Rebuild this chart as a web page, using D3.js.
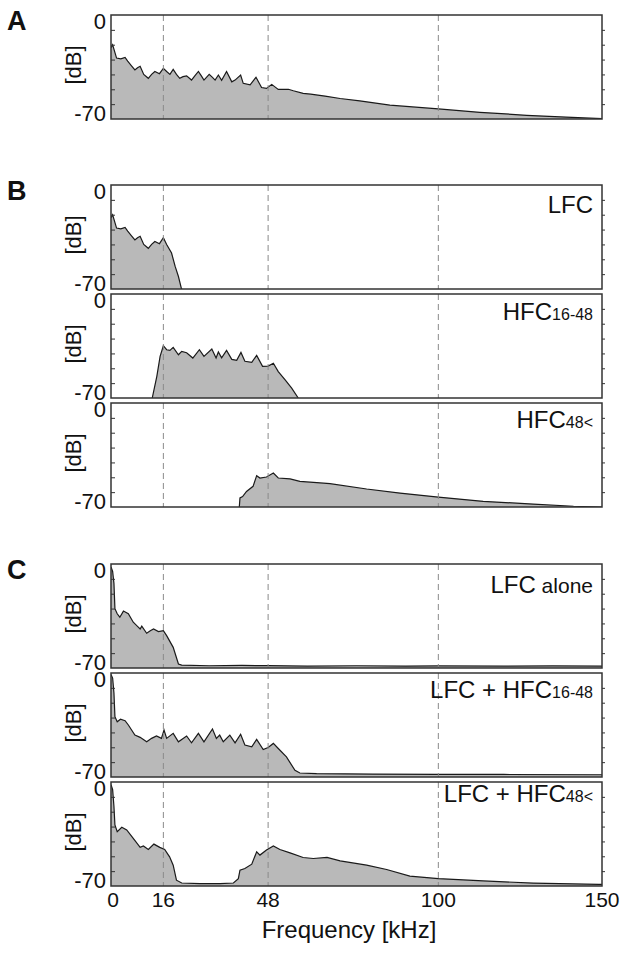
<!DOCTYPE html>
<html>
<head>
<meta charset="utf-8">
<script src="https://cdnjs.cloudflare.com/ajax/libs/d3/7.8.5/d3.min.js"></script>
<style>
	body { margin: 0; background: #fff; }
	text { font-family: "Liberation Sans", Arial, sans-serif; fill: #111; }
</style>
</head>
<body>
<div id="chart"></div>
<script>
// spectra: [frequency kHz, level dB]
const spectrumA = [[0,-22],[0.5,-20],[1.7,-29],[3,-29.5],[4.3,-28.5],[5.1,-31],[6.2,-34],[7.3,-37],[8.1,-35.5],[8.9,-34.5],[10,-40],[11.4,-42.6],[12.4,-40],[13.4,-38],[14.8,-39.5],[16,-35.9],[17,-38],[18,-40],[19,-36.6],[20,-40],[21,-42.6],[22,-41.5],[23.1,-41],[24.6,-43.8],[25.6,-41],[26.7,-38],[27.6,-41],[28.4,-43.8],[30,-40],[31,-42],[31.8,-43.8],[32.8,-40.4],[33.8,-44],[35.3,-38],[36.9,-45],[37.9,-43.8],[39.6,-40.4],[40.4,-46],[42.5,-47],[44.3,-41.9],[46,-48.8],[47.5,-49.4],[49.1,-46.7],[51.1,-50.1],[54.2,-50],[55.7,-51],[58.7,-52.8],[61,-53.3],[65.4,-54.6],[70,-56.2],[76,-57.8],[85.2,-60.7],[100,-63.2],[112.7,-65.5],[127,-67.5],[139,-68.7],[150,-69.8]];
const spectrumLFC = [[0,-22],[0.5,-20],[1.7,-29],[3,-29.5],[4.3,-28.5],[5.1,-31],[6.2,-34],[7.3,-37],[8.1,-35.5],[8.9,-34.5],[10,-40],[11.4,-42.6],[12.4,-40],[13.4,-38],[14.8,-39.5],[16,-35.5],[17,-40],[18.5,-45.8],[19.6,-54.8],[20.6,-61.6],[21.5,-69.6],[21.7,-70]];
const spectrumHFC1648 = [[12.6,-70],[14,-55.4],[15,-42],[16,-34.8],[17,-37.5],[18,-38],[19,-35.9],[20.6,-40.9],[21.6,-38.6],[23.1,-39.5],[25,-43.1],[27,-37.5],[28.4,-42],[30.8,-37],[32.1,-43],[32.8,-39],[33.8,-43],[35.3,-38],[36.9,-44],[38.4,-44.6],[39.7,-39.3],[40.9,-45.3],[43,-46],[44.5,-41.3],[46.3,-48.7],[48,-48.5],[49.6,-46.6],[51.1,-52.2],[53.2,-57.8],[55.2,-63.4],[57.2,-70]];
const spectrumHFC48 = [[39.2,-70],[39.4,-63.9],[40.2,-63],[41.4,-59.5],[43.4,-56.1],[44.5,-48.9],[45.5,-50.5],[47.5,-49.8],[49.6,-47.1],[51.1,-50.5],[54.7,-51.1],[57.7,-52.8],[63.9,-53.8],[66.9,-54.3],[78.1,-57.9],[88.3,-60.6],[100,-63.3],[113.7,-66.2],[129,-68],[141.3,-69.5],[150,-70]];
const spectrumLFCalone = [[0,-2],[0.5,-5],[0.9,-13],[1.2,-30.1],[1.9,-33.5],[2.7,-35.8],[3.8,-31.7],[5.3,-33.5],[6.8,-39.2],[8.1,-42],[8.9,-43.7],[9.4,-41.8],[10.9,-46.6],[12,-45],[13,-43.7],[14.5,-45.5],[16,-44.8],[17,-48.2],[19,-56.1],[20.6,-67.3],[21.6,-68],[30,-68.5],[40,-68.3],[48,-68.4],[60,-68.8],[75,-68.5],[90,-68.7],[100,-68.6],[120,-68.8],[135,-68.6],[150,-68.8]];
const spectrumLFCHFC1648 = [[0,-1.1],[0.5,-3.4],[0.9,-13.5],[1.2,-29.4],[1.9,-32.8],[2.9,-31.1],[4.3,-32.1],[5.3,-35],[7.3,-41.8],[8.9,-43.3],[10.9,-46.3],[12.4,-44],[13.9,-42.4],[15.4,-44],[16.2,-38.4],[17,-44],[19,-40.6],[20.6,-46.3],[23.1,-42.4],[24.6,-47],[26.7,-40.6],[28.4,-46.3],[31,-37.7],[32.2,-44],[33.2,-41.8],[34.3,-46.3],[36.3,-41.8],[37.9,-47],[39.6,-41.2],[40.9,-48.5],[43,-49.7],[44.5,-44.7],[46.5,-51.5],[48,-50.1],[49.6,-47.4],[51.1,-50.8],[53.6,-56.5],[56.2,-65.5],[57.7,-67.3],[62.8,-67.7],[80,-68],[100,-68.2],[120,-68.3],[150,-68.5]];
const spectrumLFCHFC48 = [[0,-1.8],[0.5,-5.2],[0.9,-16.5],[1.2,-28.9],[1.9,-33.5],[3.3,-30.5],[4.8,-32.3],[6.8,-37.9],[8.9,-44],[9.9,-43.1],[11.4,-45.4],[13.1,-41.8],[14.9,-44],[16.4,-45.4],[17.9,-50.4],[19,-56],[20,-66.1],[21.6,-68],[27.2,-68.4],[33.3,-68.4],[37.4,-68],[38.9,-65],[39.4,-59.4],[40.9,-58.2],[43,-55.3],[44.5,-47],[45.5,-49.2],[47.5,-45.8],[49.6,-43.1],[51.6,-45.4],[54.7,-47.7],[58.7,-50.8],[61.8,-51.5],[66,-50.8],[70,-53.1],[78.1,-56],[84.2,-58.9],[91.3,-63.4],[100,-65],[113.7,-66.6],[129,-68],[149,-68.9],[150,-68.9]];

const markerFreqs = [16, 48, 100];
const xTickLabels = [0, 16, 48, 100, 150];
const yDomain = [-70, 0];
const yMinorTicks = [-60, -50, -40, -30, -20, -10];

// panel layout
const panels = [
	{ data: spectrumA, top: 15, letter: 'A' },
	{ data: spectrumLFC, top: 185, letter: 'B', label: ['LFC', ''], labelDy: 28 },
	{ data: spectrumHFC1648, top: 294, label: ['HFC', '16-48'], labelDy: 26 },
	{ data: spectrumHFC48, top: 403, label: ['HFC', '48<'], labelDy: 25 },
	{ data: spectrumLFCalone, top: 564, letter: 'C', label: ['LFC', ' alone'], labelDy: 29, subSize: 21 },
	{ data: spectrumLFCHFC1648, top: 673, label: ['LFC + HFC', '16-48'], labelDy: 25 },
	{ data: spectrumLFCHFC48, top: 782, label: ['LFC + HFC', '48<'], labelDy: 20 }
];

const width = 625, height = 953;
const left = 111, right = 602, panelH = 104;

const svg = d3.select('#chart').append('svg')
	.attr('width', width)
	.attr('height', height);

const x = d3.scaleLinear().domain([0, 150]).range([left, right]);

panels.forEach((p, i) => {
	const y = d3.scaleLinear().domain(yDomain).range([p.top + panelH, p.top]);
	const g = svg.append('g');

	g.append('clipPath').attr('id', 'clip' + i)
		.append('rect')
		.attr('x', left).attr('y', p.top)
		.attr('width', right - left).attr('height', panelH);

	const area = d3.area()
		.x(d => x(d[0]))
		.y0(y(-70))
		.y1(d => y(d[1]));
	const line = d3.line()
		.x(d => x(d[0]))
		.y(d => y(d[1]));

	const plot = g.append('g').attr('clip-path', `url(#clip${i})`);
	plot.append('path')
		.datum(p.data)
		.attr('d', area)
		.style('fill', '#b9b9b9');
	plot.append('path')
		.datum(p.data)
		.attr('d', line)
		.style('fill', 'none')
		.style('stroke', '#1a1a1a')
		.style('stroke-width', 1.2);

	// dashed markers
	g.selectAll('.marker')
		.data(markerFreqs)
		.enter()
		.append('line')
			.attr('x1', d => x(d)).attr('x2', d => x(d))
			.attr('y1', p.top).attr('y2', p.top + panelH)
			.style('stroke', '#8a8a8a')
			.style('stroke-width', 1)
			.style('stroke-dasharray', '6,4');

	// minor ticks
	const yLeft = d3.axisLeft(y).tickValues(yMinorTicks).tickSize(-4).tickFormat('');
	const yRight = d3.axisRight(y).tickValues(yMinorTicks).tickSize(3).tickFormat('');
	g.append('g').attr('transform', `translate(${left},0)`).call(yLeft)
		.call(s => s.select('.domain').remove())
		.selectAll('line').style('stroke', '#333');
	g.append('g').attr('transform', `translate(${right},0)`).call(yRight)
		.call(s => s.select('.domain').remove())
		.selectAll('line').style('stroke', '#333');

	// frame
	g.append('rect')
		.attr('x', left).attr('y', p.top)
		.attr('width', right - left).attr('height', panelH)
		.style('fill', 'none')
		.style('stroke', '#333')
		.style('stroke-width', 1.5);

	// y labels
	g.append('text')
		.attr('x', 106).attr('y', y(0) + 14)
		.attr('text-anchor', 'end')
		.style('font-size', '22px')
		.text('0');
	g.append('text')
		.attr('x', 106).attr('y', y(-70) + 2)
		.attr('text-anchor', 'end')
		.style('font-size', '22px')
		.text('-70');
	g.append('text')
		.attr('transform', `translate(81, ${p.top + panelH / 2 - 2}) rotate(-90)`)
		.attr('text-anchor', 'middle')
		.style('font-size', '22px')
		.text('[dB]');

	if (p.letter) {
		svg.append('text')
			.attr('x', 7).attr('y', p.top + 15)
			.style('font-size', '27px')
			.style('font-weight', 'bold')
			.text(p.letter);
	}

	if (p.label) {
		const t = g.append('text')
			.attr('x', 593).attr('y', p.top + p.labelDy)
			.attr('text-anchor', 'end')
			.style('font-size', '24px');
		t.append('tspan').text(p.label[0]);
		t.append('tspan')
			.style('font-size', (p.subSize || 16) + 'px')
			.text(p.label[1]);
	}
});

// x axis labels
svg.append('g')
	.selectAll('text')
	.data(xTickLabels)
	.enter()
	.append('text')
		.attr('x', d => x(d) + (d === 0 ? 2 : 0))
		.attr('y', 907)
		.attr('text-anchor', 'middle')
		.style('font-size', '21px')
		.text(d => d);

svg.append('text')
	.attr('x', 349).attr('y', 938)
	.attr('text-anchor', 'middle')
	.style('font-size', '24px')
	.text('Frequency [kHz]');
</script>
</body>
</html>
